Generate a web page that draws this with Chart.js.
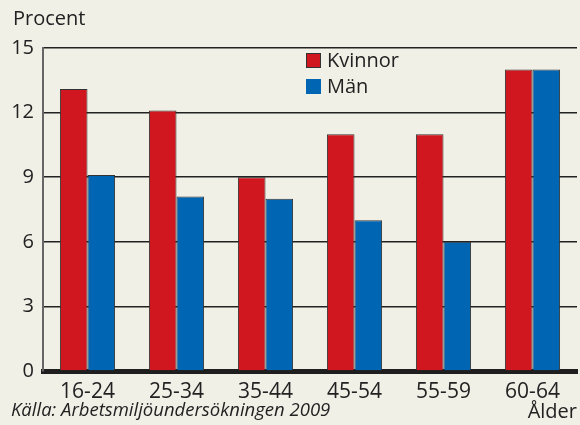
<!DOCTYPE html>
<html>
<head>
<meta charset="utf-8">
<script src="https://cdn.jsdelivr.net/npm/chart.js@4"></script>
<style>
  html, body { margin: 0; padding: 0; background: #f1f0e7; }
  #wrap { width: 580px; height: 425px; position: relative; }
</style>
</head>
<body>
<div id="wrap"><canvas id="chart" width="580" height="425"></canvas></div>
<script>
// data
const ageGroups = ["16-24", "25-34", "35-44", "45-54", "55-59", "60-64"];
const women = [13.1, 12.1, 9, 11, 11, 14];
const men = [9.1, 8.1, 8, 7, 6, 14];
const yTicks = [0, 3, 6, 9, 12, 15];

const FONT = "'Open Sans', 'Noto Sans', sans-serif";
const RED = "#d0161f";
const BLUE = "#0066b3";

// draws the extra texts and the legend box
const extras = {
  id: "extras",
  afterDraw(chart) {
    const ctx = chart.ctx;
    ctx.save();
    ctx.fillStyle = "#222";
    ctx.textBaseline = "middle";
    ctx.font = "20px " + FONT;
    ctx.textAlign = "left";
    ctx.fillText("Procent", 13, 19);
    ctx.textAlign = "right";
    ctx.fillText("Ålder", 577, 412);
    ctx.textAlign = "left";
    ctx.font = "italic 18.5px " + FONT;
    ctx.fillText("Källa: Arbetsmiljöundersökningen 2009", 11, 411);

    // legend
    ctx.font = "20px " + FONT;
    ctx.fillStyle = RED;
    ctx.fillRect(306, 53, 15, 15);
    ctx.strokeStyle = "#333";
    ctx.lineWidth = 1;
    ctx.strokeRect(306.5, 53.5, 14, 14);
    ctx.fillStyle = BLUE;
    ctx.fillRect(306, 79, 15, 15);
    ctx.fillStyle = "#222";
    ctx.fillText("Kvinnor", 327, 61);
    ctx.fillText("Män", 327, 87);
    ctx.restore();
  }
};

new Chart(document.getElementById("chart"), {
  type: "bar",
  data: {
    labels: ageGroups,
    datasets: [
      {
        label: "Kvinnor",
        data: women,
        backgroundColor: RED,
        borderColor: "#333",
        borderWidth: 1,
        categoryPercentage: 0.62,
        barPercentage: 1,
      },
      {
        label: "Män",
        data: men,
        backgroundColor: BLUE,
        borderColor: "#333",
        borderWidth: 1,
        categoryPercentage: 0.62,
        barPercentage: 1,
      },
    ],
  },
  options: {
    responsive: false,
    animation: false,
    layout: { padding: { top: 48, right: 3, left: 0, bottom: 0 } },
    plugins: {
      legend: { display: false },
      tooltip: { enabled: false },
    },
    scales: {
      x: {
        grid: { display: false },
        border: { color: "#1e1e1e", width: 5 },
        ticks: {
          color: "#222",
          font: { family: FONT, size: 21 },
          padding: 0,
          maxRotation: 0,
        },
        afterFit(scale) { scale.height = 54; },
      },
      y: {
        min: 0,
        max: 15,
        afterBuildTicks(scale) {
          scale.ticks = yTicks.map(v => ({ value: v }));
        },
        grid: { color: "#222", lineWidth: 1.5, drawTicks: false },
        border: { color: "#666", width: 2 },
        ticks: {
          color: "#222",
          font: { family: FONT, size: 20 },
          padding: 9,
        },
        afterFit(scale) { scale.width = 43; },
      },
    },
  },
  plugins: [extras],
});
</script>
</body>
</html>
